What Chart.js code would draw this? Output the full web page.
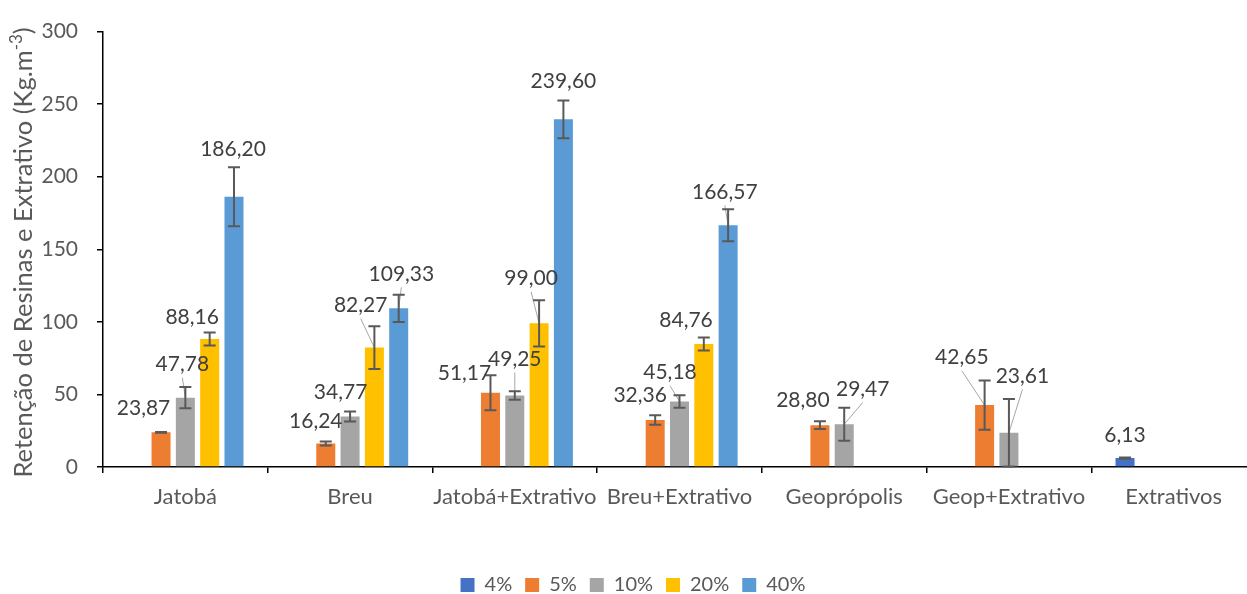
<!DOCTYPE html>
<html><head><meta charset="utf-8">
<script src="https://cdn.jsdelivr.net/npm/chart.js@4.4.0/dist/chart.umd.min.js"></script>
<style>html,body{margin:0;padding:0;overflow:hidden;background:#fff}#wrap{width:1266px;height:594px}</style>
</head><body><div id="wrap"><canvas id="c" width="1266" height="594"></canvas></div>
<script>
// ---- data ----
const categories = ['Jatobá','Breu','Jatobá+Extrativo','Breu+Extrativo','Geoprópolis','Geop+Extrativo','Extrativos'];
const seriesNames = ['4%','5%','10%','20%','40%'];
const v4  = [null, null, null, null, null, null, 6.13];
const v5  = [23.87, 16.24, 51.17, 32.36, 28.80, 42.65, null];
const v10 = [47.78, 34.77, 49.25, 45.18, 29.47, 23.61, null];
const v20 = [88.16, 82.27, 99.00, 84.76, null, null, null];
const v40 = [186.20, 109.33, 239.60, 166.57, null, null, null];
// error bar half-widths (estimated)
const e4  = [null, null, null, null, null, null, 0.4];
const e5  = [0.3, 1.4, 12.1, 3.3, 2.7, 17.0, null];
const e10 = [7.3, 3.4, 2.9, 4.3, 11.3, 23.3, null];
const e20 = [4.5, 14.7, 15.9, 4.5, null, null, null];
const e40 = [20.4, 9.4, 13.0, 11.1, null, null, null];
const yTicks = [0, 50, 100, 150, 200, 250, 300];

// ---- styles ----
const colors = ['#4472C4', '#ED7D31', '#A5A5A5', '#FFC000', '#5B9BD5'];
// label offsets [dx, dy, leaderLine] relative to bar centre / bar top (pixels)
const lab4  = [null, null, null, null, null, null, [0, -23.5, 0]];
const lab5  = [[-17.5, -25, 0], [-10, -22.6, 0], [-26, -20, 0], [-15, -25.4, 0], [-17, -25.7, 0], [-22.8, -48.3, 1], null];
const lab10 = [[-3, -34, 1], [-9.5, -25, 0], [0, -37, 1], [-9.5, -29.6, 1], [18.5, -35.7, 1], [13.5, -57.3, 1], null];
const lab20 = [[-17.5, -23, 0], [-13.7, -43, 1], [-8, -45.5, 1], [-17.8, -24.4, 0], null, null, null];
const lab40 = [[-1, -48, 0], [2.7, -35, 1], [0, -39, 0], [-3.3, -34, 1], null, null, null];

const values = [v4, v5, v10, v20, v40];
const errors = [e4, e5, e10, e20, e40];
const labelPos = [lab4, lab5, lab10, lab20, lab40];
const FONT = 'Lato';
const PAD_BOTTOM = -11;

const fmt = v => v.toFixed(2).replace('.', ',');

const overlay = {
  id: 'overlay',
  afterDatasetsDraw(chart) {
    const ctx = chart.ctx;
    const ys = chart.scales.y;
    ctx.save();
    // leader lines
    ctx.strokeStyle = '#A6A6A6';
    ctx.lineWidth = 1;
    values.forEach((arr, i) => {
      const meta = chart.getDatasetMeta(i);
      arr.forEach((v, j) => {
        if (v == null) return;
        const lp = labelPos[i][j];
        if (!lp || !lp[2]) return;
        const bar = meta.data[j];
        ctx.beginPath();
        ctx.moveTo(bar.x + lp[0], bar.y + lp[1] + 14);
        ctx.lineTo(bar.x, bar.y);
        ctx.stroke();
      });
    });
    // error bars
    ctx.strokeStyle = '#595959';
    ctx.lineWidth = 2;
    values.forEach((arr, i) => {
      const meta = chart.getDatasetMeta(i);
      arr.forEach((v, j) => {
        const e = errors[i][j];
        if (v == null || e == null) return;
        const bar = meta.data[j];
        const yHi = ys.getPixelForValue(v + e);
        const yLo = ys.getPixelForValue(Math.max(0, v - e));
        ctx.beginPath();
        ctx.moveTo(bar.x, yHi); ctx.lineTo(bar.x, yLo);
        ctx.moveTo(bar.x - 6, yHi); ctx.lineTo(bar.x + 6, yHi);
        ctx.moveTo(bar.x - 6, yLo); ctx.lineTo(bar.x + 6, yLo);
        ctx.stroke();
      });
    });
    // data labels
    ctx.fillStyle = '#404040';
    ctx.font = '21px ' + FONT;
    ctx.textAlign = 'center';
    ctx.textBaseline = 'alphabetic';
    values.forEach((arr, i) => {
      const meta = chart.getDatasetMeta(i);
      arr.forEach((v, j) => {
        if (v == null) return;
        const lp = labelPos[i][j] || [0, -20, 0];
        const bar = meta.data[j];
        ctx.fillText(fmt(v), bar.x + lp[0], bar.y + lp[1] + 7.6);
      });
    });
    ctx.restore();
  },
  afterDraw(chart) {
    const ctx = chart.ctx;
    ctx.save();
    // y-axis title with superscript
    const main = 'Retenção de Resinas e Extrativo (Kg.m';
    const sup = '-3';
    const close = ')';
    ctx.fillStyle = '#595959';
    ctx.textAlign = 'left';
    ctx.textBaseline = 'alphabetic';
    ctx.font = '25.5px ' + FONT;
    const w1 = ctx.measureText(main).width;
    const w3 = ctx.measureText(close).width;
    ctx.font = '17px ' + FONT;
    const w2 = ctx.measureText(sup).width;
    const total = w1 + w2 + w3;
    ctx.translate(32, 252.5);
    ctx.rotate(-Math.PI / 2);
    let x = -total / 2;
    ctx.font = '25.5px ' + FONT;
    ctx.fillText(main, x, 0); x += w1;
    ctx.font = '17px ' + FONT;
    ctx.fillText(sup, x, -10); x += w2;
    ctx.font = '25.5px ' + FONT;
    ctx.fillText(close, x, 0);
    ctx.restore();
  }
};

new Chart(document.getElementById('c'), {
  type: 'bar',
  data: {
    labels: categories,
    datasets: seriesNames.map((n, i) => ({
      label: n, data: values[i], backgroundColor: colors[i], borderWidth: 0
    }))
  },
  options: {
    responsive: false,
    animation: false,
    layout: { padding: { left: 10, right: 10, top: 26, bottom: PAD_BOTTOM } },
    datasets: { bar: { categoryPercentage: 0.738, barPercentage: 0.782 } },
    plugins: {
      legend: {
        position: 'bottom',
        labels: { boxWidth: 14, boxHeight: 14, padding: 13, color: '#595959', font: { family: FONT, size: 20 } }
      },
      tooltip: { enabled: false }
    },
    scales: {
      x: {
        grid: { display: true, drawOnChartArea: false, drawTicks: true, tickLength: 6, color: '#000', lineWidth: 1.5 },
        border: { display: true, color: '#000', width: 1.5 },
        ticks: { color: '#595959', font: { family: FONT, size: 22 }, padding: 11, maxRotation: 0, autoSkip: false },
        afterFit(s) {
          const ch = s.chart;
          const lh = (ch.legend && ch.legend.height) ? ch.legend.height : 43;
          s.height = ch.height - PAD_BOTTOM - lh - 467;
        }
      },
      y: {
        min: 0, max: 300,
        afterBuildTicks(s) { s.ticks = yTicks.map(v => ({ value: v })); },
        grid: { display: true, drawOnChartArea: false, drawTicks: true, tickLength: 6, color: '#000', lineWidth: 1.5 },
        border: { display: true, color: '#000', width: 1.5 },
        ticks: { color: '#595959', font: { family: FONT, size: 21 }, padding: 19 },
        afterFit(s) { s.width = 93; }
      }
    }
  },
  plugins: [overlay]
});
</script>
</body></html>
